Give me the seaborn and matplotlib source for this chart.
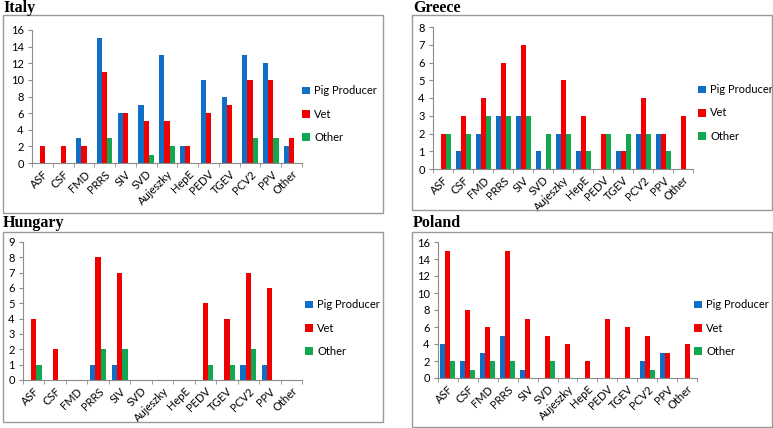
import matplotlib
matplotlib.use("Agg")
import matplotlib.pyplot as plt
import seaborn as sns
import pandas as pd
from matplotlib.patches import Rectangle

categories = ["ASF", "CSF", "FMD", "PRRS", "SIV", "SVD", "Aujeszky", "HepE",
              "PEDV", "TGEV", "PCV2", "PPV", "Other"]
series_names = ["Pig Producer", "Vet", "Other"]

italy_pig = [0, 0, 3, 15, 6, 7, 13, 2, 10, 8, 13, 12, 2]
italy_vet = [2, 2, 2, 11, 6, 5, 5, 2, 6, 7, 10, 10, 3]
italy_other = [0, 0, 0, 3, 0, 1, 2, 0, 0, 0, 3, 3, 0]

greece_pig = [0, 1, 2, 3, 3, 1, 2, 1, 0, 1, 2, 2, 0]
greece_vet = [2, 3, 4, 6, 7, 0, 5, 3, 2, 1, 4, 2, 3]
greece_other = [2, 2, 3, 3, 3, 2, 2, 1, 2, 2, 2, 1, 0]

hungary_pig = [0, 0, 0, 1, 1, 0, 0, 0, 0, 0, 1, 1, 0]
hungary_vet = [4, 2, 0, 8, 7, 0, 0, 0, 5, 4, 7, 6, 0]
hungary_other = [1, 0, 0, 2, 2, 0, 0, 0, 1, 1, 2, 0, 0]

poland_pig = [4, 2, 3, 5, 1, 0, 0, 0, 0, 0, 2, 3, 0]
poland_vet = [15, 8, 6, 15, 7, 5, 4, 2, 7, 6, 5, 3, 4]
poland_other = [2, 1, 2, 2, 0, 2, 0, 0, 0, 0, 1, 0, 0]

palette = {"Pig Producer": "#0F6FC6", "Vet": "#F00000", "Other": "#12A851"}

W, H = 773, 428
fig = plt.figure(figsize=(W / 100, H / 100), dpi=100)
fig.patch.set_facecolor("white")

tick_font = "Lato"


def px_axes(left, top, right, bottom):
    return fig.add_axes([left / W, 1 - bottom / H, (right - left) / W, (bottom - top) / H])


panels = [
    ("Italy", italy_pig, italy_vet, italy_other, 16, 2,
     (3, 15, 383, 213), (32, 30, 302, 163), (3, 8), (302, 114)),
    ("Greece", greece_pig, greece_vet, greece_other, 8, 1,
     (412, 15, 772, 210), (433, 27, 693, 169), (413, 8), (698, 113)),
    ("Hungary", hungary_pig, hungary_vet, hungary_other, 9, 1,
     (3, 232, 383, 422), (23, 242, 302, 380), (3, 223), (305, 328)),
    ("Poland", poland_pig, poland_vet, poland_other, 16, 2,
     (412, 232, 772, 427), (438, 242, 697, 378), (413, 223), (694, 328)),
]

for title, pig, vet, oth, ymax, ystep, box, axpx, tpos, lpos in panels:
    # panel frame
    fig.patches.append(Rectangle((box[0] / W, 1 - box[3] / H), (box[2] - box[0]) / W,
                                 (box[3] - box[1]) / H, transform=fig.transFigure,
                                 fill=False, edgecolor="#9a9a9a", linewidth=1.0))
    fig.text(tpos[0] / W, 1 - tpos[1] / H, title, fontsize=11.5, fontweight="bold",
             family="Liberation Serif", va="center", ha="left")

    df = pd.DataFrame({
        "cat": categories * 3,
        "series": [series_names[0]] * 13 + [series_names[1]] * 13 + [series_names[2]] * 13,
        "value": pig + vet + oth,
    })
    ax = px_axes(*axpx)
    sns.barplot(data=df, x="cat", y="value", hue="series", hue_order=series_names,
                order=categories, palette=palette, saturation=1, width=0.75,
                linewidth=0, ax=ax)
    ax.set_facecolor("none")
    ax.set_xlim(-0.5, 12.5)
    ax.set_ylim(0, ymax)
    ax.set_yticks(range(0, ymax + 1, ystep))
    ax.set_xlabel("")
    ax.set_ylabel("")
    for s in ["top", "right"]:
        ax.spines[s].set_visible(False)
    for s in ["left", "bottom"]:
        ax.spines[s].set_color("#8c8c8c")
        ax.spines[s].set_linewidth(0.8)
    ax.tick_params(axis="y", labelsize=8, length=3, color="#8c8c8c", pad=3)
    ax.set_xticks(range(13))
    ax.set_xticklabels(categories, rotation=45, ha="right", rotation_mode="anchor",
                       fontsize=8, family=tick_font)
    for lab in ax.get_yticklabels():
        lab.set_family(tick_font)
    ax.tick_params(axis="x", length=0, pad=4)
    ax.set_xticks([i - 0.5 for i in range(14)], minor=True)
    ax.tick_params(axis="x", which="minor", length=3, color="#8c8c8c")

    handles, labels = ax.get_legend_handles_labels()
    ax.legend(handles, labels, loc="center left",
              bbox_to_anchor=(lpos[0] / W, 1 - lpos[1] / H), bbox_transform=fig.transFigure,
              frameon=False, prop={"family": tick_font, "size": 8},
              handlelength=0.7, handleheight=0.7, handletextpad=0.4, labelspacing=1.1,
              borderaxespad=0, borderpad=0)

fig.savefig("out.png", dpi=100, facecolor="white")
